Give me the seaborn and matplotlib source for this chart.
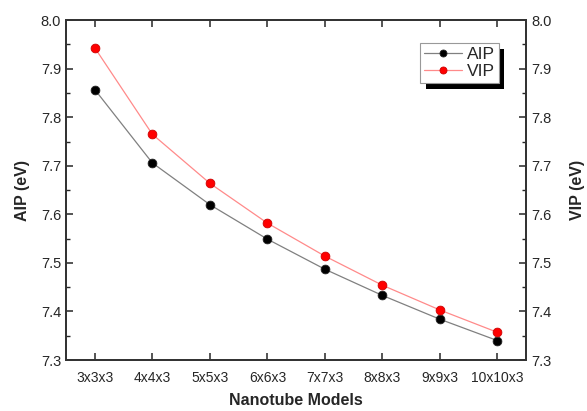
import matplotlib
matplotlib.use("Agg")
import matplotlib.pyplot as plt
import matplotlib.patheffects as pe
import seaborn as sns
import pandas as pd
from matplotlib.ticker import MultipleLocator

models = ["3x3x3", "4x4x3", "5x5x3", "6x6x3", "7x7x3", "8x8x3", "9x9x3", "10x10x3"]
aip = [7.857, 7.706, 7.620, 7.549, 7.487, 7.433, 7.384, 7.340]
vip = [7.943, 7.765, 7.664, 7.582, 7.514, 7.454, 7.403, 7.357]

sns.set_theme(style="ticks")
plt.rcParams['font.family'] = ['Liberation Sans', 'DejaVu Sans']

df = pd.DataFrame({"pos": range(len(models)), "AIP": aip, "VIP": vip})

fig = plt.figure(figsize=(5.87, 4.11), dpi=100)
ax = fig.add_axes([0.1125, 0.124, 0.784, 0.827])
ax2 = ax.twinx()

sns.lineplot(data=df, x="pos", y="AIP", ax=ax, color="#808080", lw=0.9,
             marker="o", markersize=6.3, markerfacecolor="black",
             markeredgecolor="#222222", markeredgewidth=0.6, label="AIP", legend=False)
sns.lineplot(data=df, x="pos", y="VIP", ax=ax2, color="#ff8a8a", lw=0.9,
             marker="o", markersize=6.3, markerfacecolor="#ff0000",
             markeredgecolor="#cc0000", markeredgewidth=0.6, label="VIP", legend=False)

for a in (ax, ax2):
    a.set_ylim(7.3, 8.0)
    a.yaxis.set_major_locator(MultipleLocator(0.1))
    a.yaxis.set_minor_locator(MultipleLocator(0.05))
    a.yaxis.set_major_formatter(matplotlib.ticker.FormatStrFormatter('%.1f'))
    a.set_xlim(-0.5, len(models) - 0.5)
    for s in a.spines.values():
        s.set_linewidth(1.3)
        s.set_color("#333333")

ax.set_xticks(range(len(models)))
ax.set_xticklabels(models)
ax.tick_params(axis="x", direction="in", top=True, length=5, width=1.1, labelsize=10, pad=8)
ax.tick_params(axis="y", which="major", direction="in", length=5, width=1.1, labelsize=10.5)
ax.tick_params(axis="y", which="minor", direction="in", length=3, width=1.0)
ax2.tick_params(axis="y", which="major", direction="in", length=5, width=1.1, labelsize=10.5)
ax2.tick_params(axis="y", which="minor", direction="in", length=3, width=1.0)

ax.set_xlabel("Nanotube Models", fontsize=11.5, fontweight="bold", labelpad=6)
ax.set_ylabel("AIP (eV)", fontsize=11.5, fontweight="bold", labelpad=8)
ax2.set_ylabel("VIP (eV)", fontsize=11.5, fontweight="bold", labelpad=13)

h1, l1 = ax.get_legend_handles_labels()
h2, l2 = ax2.get_legend_handles_labels()
leg = ax2.legend(h1 + h2, l1 + l2, loc="upper right", bbox_to_anchor=(0.94, 0.932),
                 fontsize=12.5, frameon=True, fancybox=False, shadow=False,
                 handlelength=2.2, borderpad=0.22, labelspacing=0.12, handletextpad=0.25,
                 borderaxespad=0, markerscale=0.8)
frame = leg.get_frame()
frame.set_edgecolor("#999999")
frame.set_linewidth(0.8)
frame.set_alpha(1)
frame.set_path_effects([pe.SimplePatchShadow(offset=(3.8, -4.2), shadow_rgbFace="black", alpha=1),
                        pe.Normal()])

fig.savefig("out.png", dpi=100)
